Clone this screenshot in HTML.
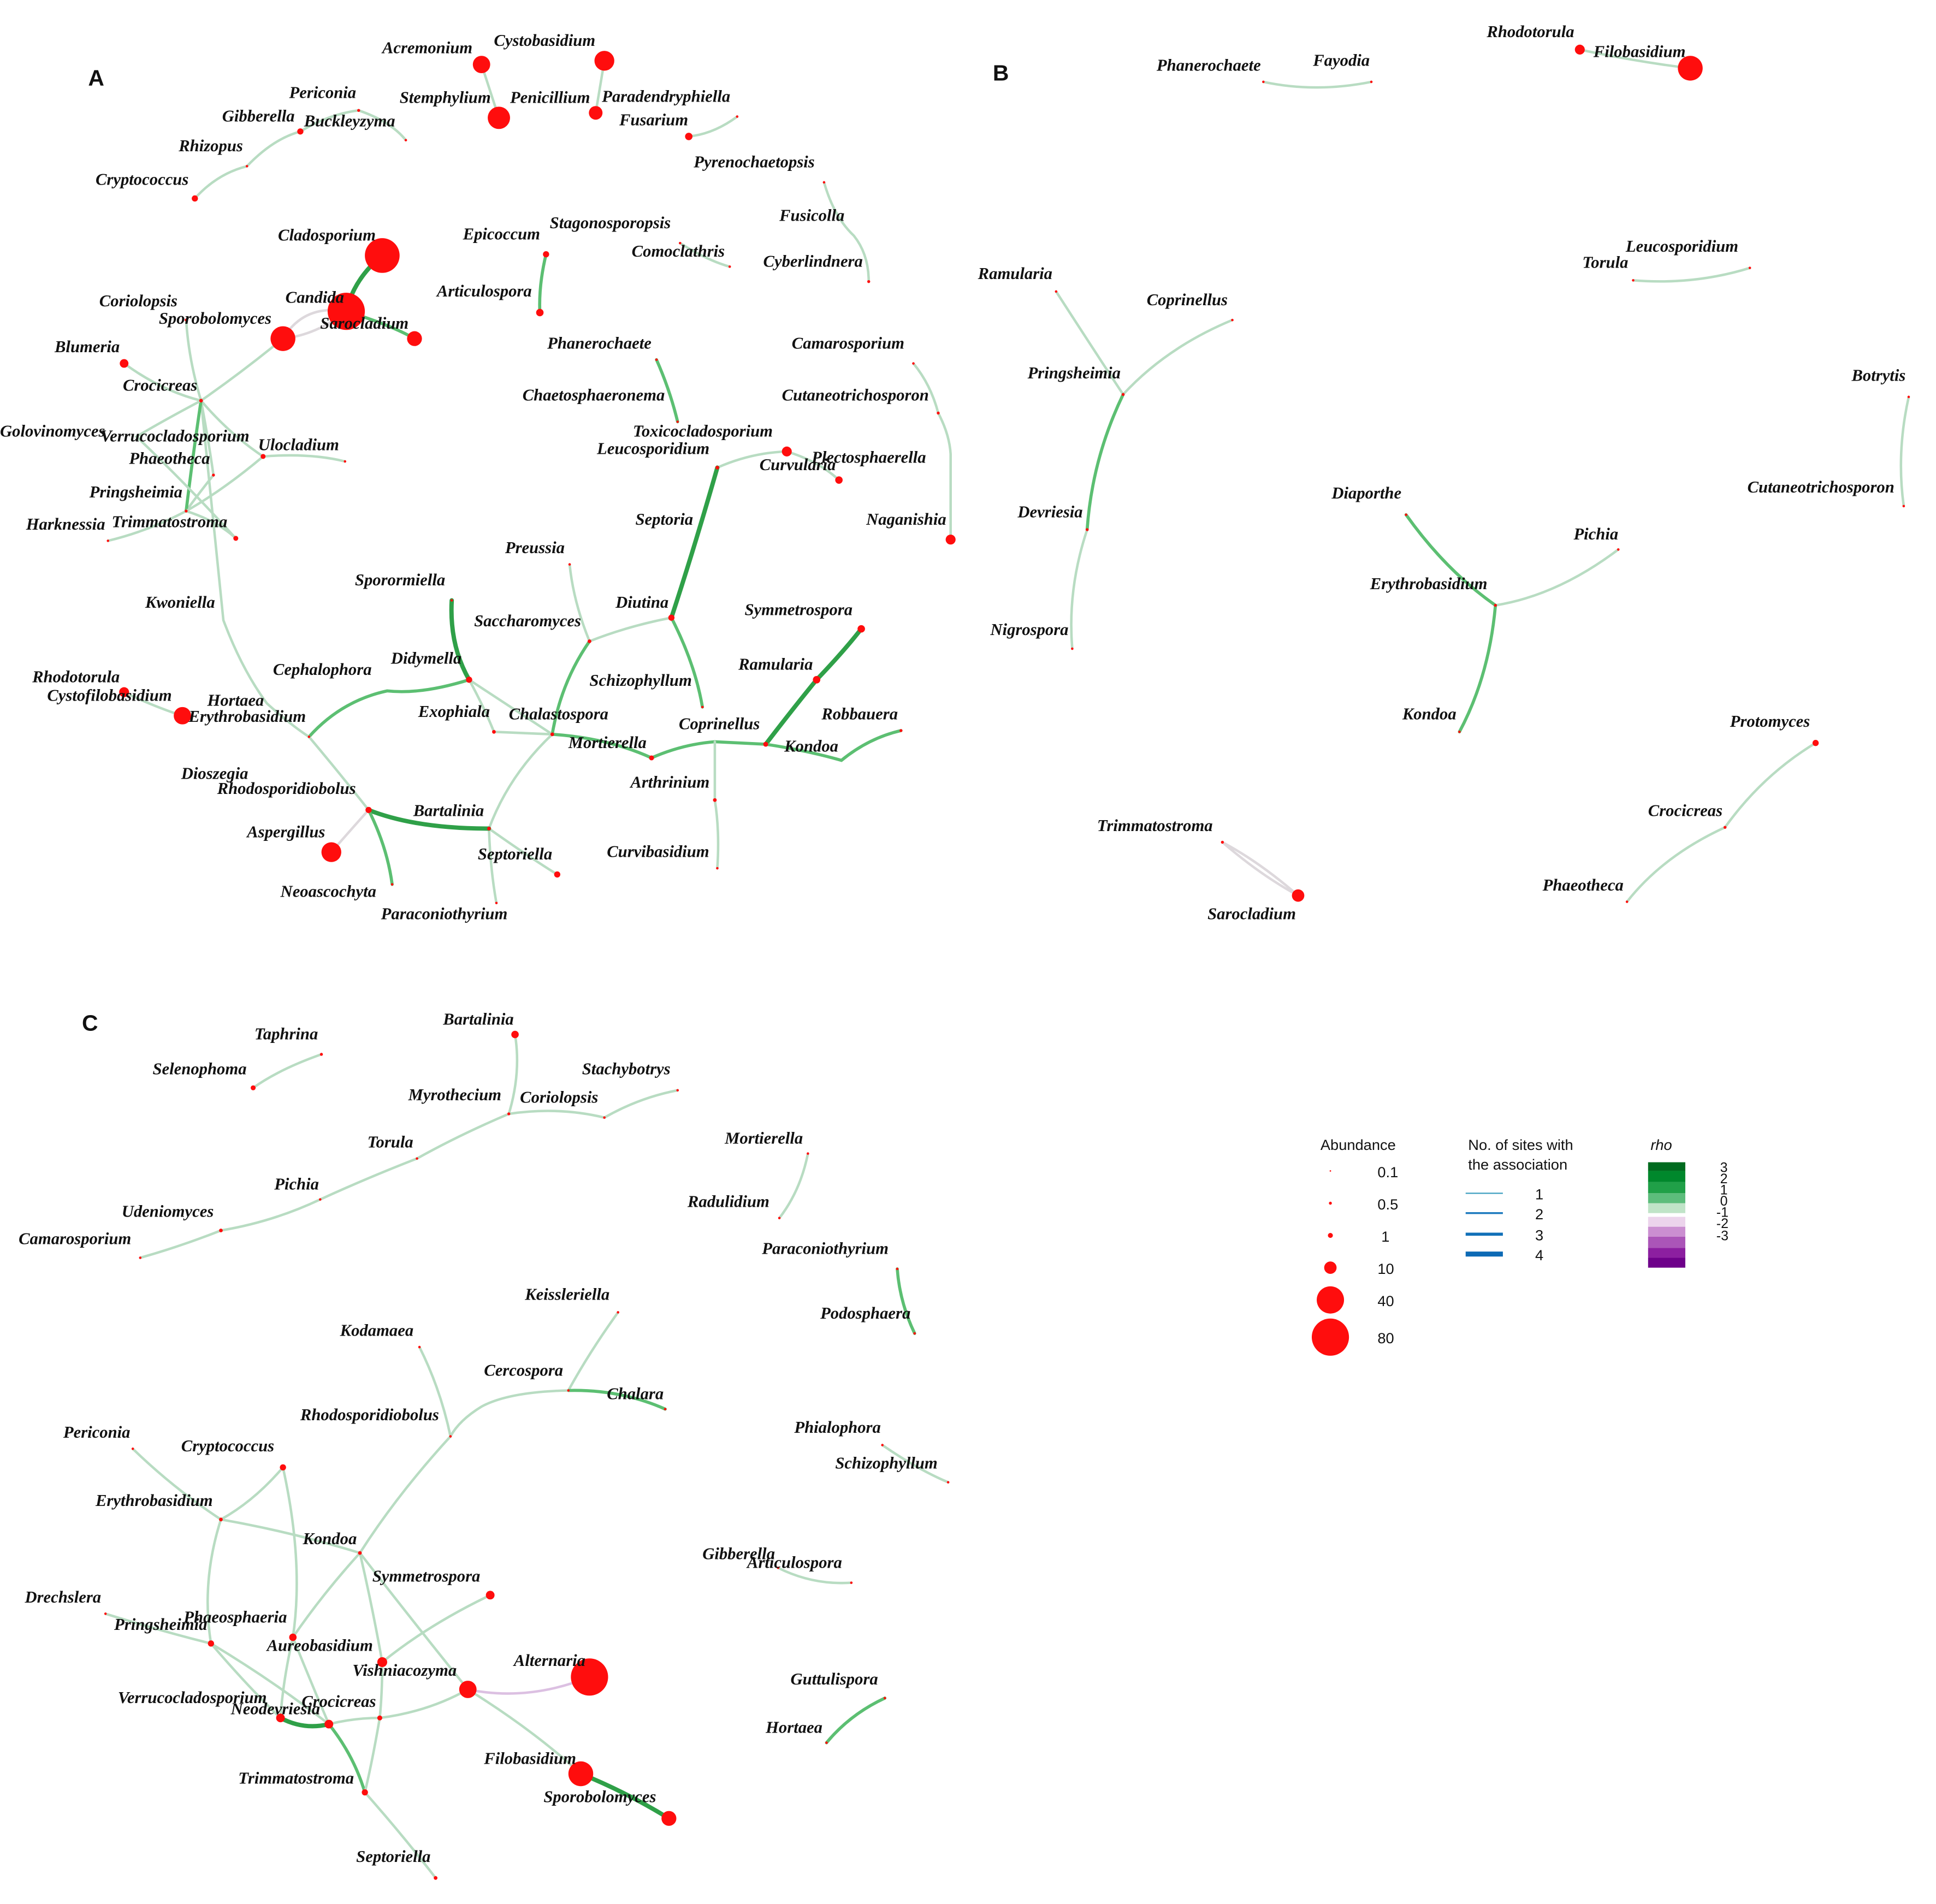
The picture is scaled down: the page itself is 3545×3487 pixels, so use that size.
<!DOCTYPE html>
<html><head><meta charset="utf-8"><style>
html,body{margin:0;padding:0;background:#fff;}
svg{display:block;}
.t{font-family:"Liberation Serif",serif;font-weight:bold;font-style:italic;font-size:13.5px;fill:#111;}
.s{font-family:"Liberation Sans",sans-serif;font-size:12px;fill:#111;}
.p{font-family:"Liberation Sans",sans-serif;font-weight:bold;font-size:18px;fill:#111;}
.l{stroke:#b8dcc2;stroke-width:2;fill:none;stroke-linecap:round;}
.m{stroke:#5cbf72;stroke-width:2.5;fill:none;stroke-linecap:round;}
.d{stroke:#2fa048;stroke-width:3.5;fill:none;stroke-linecap:round;}
.g{stroke:#ddd8dc;stroke-width:2;fill:none;}
.u{stroke:#dcc0e2;stroke-width:2;fill:none;}
circle{fill:#ff0d0d;}
</style></head><body>
<svg width="3545" height="3487" viewBox="0 0 1560 1535" preserveAspectRatio="none" xmlns="http://www.w3.org/2000/svg">
<g>
<path class="l" d="M388,52 L402,95"/><path class="l" d="M487,49 L480,91"/>
<path class="l" d="M157,160 Q175,140 199,134 Q220,112 242,106 Q265,92 289,89 Q315,98 327,113"/>
<path class="l" d="M555,110 Q575,108 594,94"/>
<path class="l" d="M664,147 Q672,175 688,190 Q700,205 700,227"/>
<path class="d" d="M308,206 Q285,225 279,251"/>
<path class="m" d="M279,251 Q315,262 334,273"/>
<path class="g" d="M279,251 Q245,245 228,273 Q255,270 279,251"/>
<path class="l" d="M228,273 Q195,300 162,323"/>
<path class="m" d="M440,205 Q434,230 435,252"/>
<path class="l" d="M548,196 Q570,210 588,215"/>
<path class="m" d="M529,290 Q540,315 546,340"/>
<path class="l" d="M736,293 Q750,310 756,333 Q765,350 766,366 L766,435"/>
<path class="l" d="M578,377 Q605,365 634,364 Q660,372 676,387"/>
<path class="d" d="M578,377 Q560,440 541,498"/>
<path class="l" d="M541,498 Q505,505 475,517 Q462,485 459,455"/>
<path class="m" d="M541,498 Q560,535 566,570"/>
<path class="m" d="M475,517 Q452,550 445,592"/>
<path class="d" d="M364,484 Q362,520 378,548"/>
<path class="m" d="M378,548 Q340,560 312,557 Q275,565 249,594"/>
<path class="l" d="M378,548 Q390,570 398,590 L445,592 L378,548"/>
<path class="m" d="M445,592 Q490,595 525,611 Q550,600 576,598 L617,600"/>
<path class="d" d="M617,600 Q640,570 658,548 Q680,525 694,507"/>
<path class="m" d="M617,600 Q650,605 678,613 Q700,595 726,589"/>
<path class="l" d="M576,598 L576,645 Q580,670 578,700"/>
<path class="l" d="M445,592 Q410,625 394,668 Q395,700 400,728"/>
<path class="l" d="M394,668 Q425,690 449,705"/>
<path class="d" d="M394,668 Q335,668 297,653"/>
<path class="m" d="M297,653 Q312,683 316,713"/>
<path class="g" d="M297,653 Q280,672 267,687"/>
<path class="l" d="M162,323 Q172,420 180,500 Q195,540 215,567 Q235,585 249,594 Q275,625 297,653"/>
<path class="l" d="M162,323 Q152,290 150,258"/>
<path class="l" d="M100,293 Q130,315 162,323"/>
<path class="l" d="M162,323 Q185,350 212,368 Q250,365 278,372"/>
<path class="l" d="M162,323 Q168,355 172,383 Q160,398 150,412 Q120,428 87,436"/>
<path class="m" d="M162,323 Q155,370 150,412"/>
<path class="l" d="M162,323 Q130,340 110,352 Q150,390 190,434"/>
<path class="l" d="M212,368 Q180,395 150,412 Q175,420 190,434"/>
<path class="l" d="M100,558 Q125,570 147,577"/>
</g>
<g>
<circle cx="388" cy="52" r="7"/><circle cx="487" cy="49" r="8"/><circle cx="402" cy="95" r="9"/><circle cx="480" cy="91" r="5.5"/>
<circle cx="289" cy="89" r="1.2"/><circle cx="327" cy="113" r="1"/><circle cx="242" cy="106" r="2.5"/><circle cx="199" cy="134" r="1"/><circle cx="157" cy="160" r="2.5"/>
<circle cx="555" cy="110" r="3"/><circle cx="594" cy="94" r="1"/><circle cx="664" cy="147" r="1"/><circle cx="700" cy="227" r="1.2"/>
<circle cx="308" cy="206" r="14"/><circle cx="279" cy="251" r="15"/><circle cx="334" cy="273" r="6"/><circle cx="228" cy="273" r="10"/>
<circle cx="440" cy="205" r="2.5"/><circle cx="435" cy="252" r="3"/><circle cx="548" cy="196" r="1"/><circle cx="588" cy="215" r="1"/>
<circle cx="529" cy="290" r="1"/><circle cx="546" cy="340" r="1"/><circle cx="736" cy="293" r="1"/><circle cx="756" cy="333" r="1.2"/><circle cx="766" cy="435" r="4"/>
<circle cx="578" cy="377" r="1.5"/><circle cx="634" cy="364" r="4"/><circle cx="676" cy="387" r="3"/>
<circle cx="541" cy="498" r="2.5"/><circle cx="475" cy="517" r="1.5"/><circle cx="459" cy="455" r="1"/><circle cx="566" cy="570" r="1"/>
<circle cx="364" cy="484" r="1"/><circle cx="378" cy="548" r="2.5"/><circle cx="398" cy="590" r="1.5"/><circle cx="445" cy="592" r="1.5"/>
<circle cx="525" cy="611" r="2"/><circle cx="617" cy="600" r="2"/><circle cx="658" cy="548" r="3"/><circle cx="694" cy="507" r="3"/><circle cx="726" cy="589" r="1.2"/>
<circle cx="576" cy="645" r="1.5"/><circle cx="578" cy="700" r="1"/><circle cx="394" cy="668" r="1.5"/><circle cx="400" cy="728" r="1"/><circle cx="449" cy="705" r="2.5"/>
<circle cx="297" cy="653" r="2.5"/><circle cx="316" cy="713" r="1"/><circle cx="267" cy="687" r="8"/>
<circle cx="162" cy="323" r="1.5"/><circle cx="150" cy="258" r="1.2"/><circle cx="100" cy="293" r="3.5"/><circle cx="212" cy="368" r="2"/><circle cx="278" cy="372" r="1"/>
<circle cx="150" cy="412" r="1.2"/><circle cx="172" cy="383" r="1.2"/><circle cx="87" cy="436" r="1"/><circle cx="190" cy="434" r="2"/>
<circle cx="100" cy="558" r="4"/><circle cx="147" cy="577" r="7"/><circle cx="249" cy="594" r="1"/>
</g>
<g class="t">
<text x="308" y="43">Acremonium</text><text x="398" y="37">Cystobasidium</text><text x="233" y="79">Periconia</text>
<text x="322" y="83">Stemphylium</text><text x="411" y="83">Penicillium</text><text x="485" y="82">Paradendryphiella</text>
<text x="179" y="98">Gibberella</text><text x="245" y="102">Buckleyzyma</text><text x="499" y="101">Fusarium</text>
<text x="144" y="122">Rhizopus</text><text x="559" y="135">Pyrenochaetopsis</text><text x="77" y="149">Cryptococcus</text>
<text x="628" y="178">Fusicolla</text><text x="224" y="194">Cladosporium</text><text x="373" y="193">Epicoccum</text>
<text x="443" y="184">Stagonosporopsis</text><text x="509" y="207">Comoclathris</text><text x="615" y="215">Cyberlindnera</text>
<text x="230" y="244">Candida</text><text x="352" y="239">Articulospora</text><text x="80" y="247">Coriolopsis</text>
<text x="128" y="261">Sporobolomyces</text><text x="258" y="265">Sarocladium</text><text x="44" y="284">Blumeria</text>
<text x="441" y="281">Phanerochaete</text><text x="638" y="281">Camarosporium</text><text x="99" y="315">Crocicreas</text>
<text x="421" y="323">Chaetosphaeronema</text><text x="630" y="323">Cutaneotrichosporon</text>
<text x="0" y="352">Golovinomyces</text><text x="81" y="356">Verrucocladosporium</text><text x="208" y="363">Ulocladium</text>
<text x="510" y="352">Toxicocladosporium</text><text x="481" y="366">Leucosporidium</text><text x="104" y="374">Phaeotheca</text>
<text x="612" y="379">Curvularia</text><text x="654" y="373">Plectosphaerella</text><text x="72" y="401">Pringsheimia</text>
<text x="21" y="427">Harknessia</text><text x="90" y="425">Trimmatostroma</text><text x="698" y="423">Naganishia</text>
<text x="512" y="423">Septoria</text><text x="407" y="446">Preussia</text><text x="286" y="472">Sporormiella</text>
<text x="496" y="490">Diutina</text><text x="117" y="490">Kwoniella</text><text x="600" y="496">Symmetrospora</text>
<text x="382" y="505">Saccharomyces</text><text x="315" y="535">Didymella</text><text x="595" y="540">Ramularia</text>
<text x="220" y="544">Cephalophora</text><text x="26" y="550">Rhodotorula</text><text x="475" y="553">Schizophyllum</text>
<text x="38" y="565">Cystofilobasidium</text><text x="167" y="569">Hortaea</text><text x="152" y="582">Erythrobasidium</text>
<text x="337" y="578">Exophiala</text><text x="410" y="580">Chalastospora</text><text x="547" y="588">Coprinellus</text>
<text x="662" y="580">Robbauera</text><text x="458" y="603">Mortierella</text><text x="632" y="606">Kondoa</text>
<text x="146" y="628">Dioszegia</text><text x="175" y="640">Rhodosporidiobolus</text><text x="508" y="635">Arthrinium</text>
<text x="333" y="658">Bartalinia</text><text x="199" y="675">Aspergillus</text><text x="385" y="693">Septoriella</text>
<text x="489" y="691">Curvibasidium</text><text x="226" y="723">Neoascochyta</text><text x="307" y="741">Paraconiothyrium</text>
</g>
<g>
<path class="l" d="M1273,40 Q1320,50 1362,55"/><path class="l" d="M1018,66 Q1060,75 1105,66"/>
<path class="l" d="M1316,226 Q1365,230 1410,216"/><path class="l" d="M1538,320 Q1528,365 1534,408"/>
<path class="l" d="M851,235 Q880,280 905,318"/><path class="l" d="M993,258 Q940,280 905,318"/>
<path class="m" d="M905,318 Q880,370 876,427"/><path class="l" d="M876,427 Q860,475 864,523"/>
<path class="m" d="M1133,415 Q1165,460 1205,488"/><path class="l" d="M1304,443 Q1255,480 1205,488"/>
<path class="m" d="M1205,488 Q1200,545 1176,590"/>
<path class="l" d="M1463,599 Q1420,625 1390,667 Q1340,690 1311,727"/>
<path class="g" d="M985,679 Q1015,705 1046,722 Q1015,695 985,679"/>
<circle cx="1273" cy="40" r="4"/><circle cx="1362" cy="55" r="10"/><circle cx="1018" cy="66" r="1"/><circle cx="1105" cy="66" r="1"/>
<circle cx="1316" cy="226" r="1"/><circle cx="1410" cy="216" r="1"/><circle cx="1538" cy="320" r="1"/><circle cx="1534" cy="408" r="1"/>
<circle cx="851" cy="235" r="1"/><circle cx="993" cy="258" r="1"/><circle cx="905" cy="318" r="1.2"/><circle cx="876" cy="427" r="1.2"/><circle cx="864" cy="523" r="1"/>
<circle cx="1133" cy="415" r="1"/><circle cx="1304" cy="443" r="1"/><circle cx="1205" cy="488" r="1.2"/><circle cx="1176" cy="590" r="1"/>
<circle cx="1463" cy="599" r="2.5"/><circle cx="1390" cy="667" r="1.2"/><circle cx="1311" cy="727" r="1"/><circle cx="985" cy="679" r="1.2"/><circle cx="1046" cy="722" r="5"/>
</g>
<g class="t">
<text x="1198" y="30">Rhodotorula</text><text x="1284" y="46">Filobasidium</text><text x="932" y="57">Phanerochaete</text>
<text x="1058" y="53">Fayodia</text><text x="1310" y="203">Leucosporidium</text><text x="1275" y="216">Torula</text>
<text x="788" y="225">Ramularia</text><text x="924" y="246">Coprinellus</text><text x="1492" y="307">Botrytis</text>
<text x="828" y="305">Pringsheimia</text><text x="1408" y="397">Cutaneotrichosporon</text><text x="1073" y="402">Diaporthe</text>
<text x="1268" y="435">Pichia</text><text x="820" y="417">Devriesia</text><text x="1104" y="475">Erythrobasidium</text>
<text x="798" y="512">Nigrospora</text><text x="1130" y="580">Kondoa</text><text x="1394" y="586">Protomyces</text>
<text x="1328" y="658">Crocicreas</text><text x="884" y="670">Trimmatostroma</text><text x="1243" y="718">Phaeotheca</text>
<text x="973" y="741">Sarocladium</text>
</g>
<g>
<path class="l" d="M415,834 Q420,865 410,898"/><path class="l" d="M410,898 Q450,892 487,901 Q515,885 546,879"/>
<path class="l" d="M410,898 Q370,915 336,934 Q295,950 258,967 Q220,985 178,992 Q145,1005 113,1014"/>
<path class="l" d="M259,850 Q225,862 204,877"/><path class="l" d="M651,930 Q645,960 628,982"/>
<path class="m" d="M723,1023 Q725,1050 737,1075"/>
<path class="l" d="M498,1058 Q475,1090 458,1121"/><path class="m" d="M458,1121 Q500,1120 536,1136"/>
<path class="l" d="M458,1121 Q410,1122 388,1134 Q370,1145 363,1158 Q320,1205 290,1252"/>
<path class="l" d="M338,1086 Q355,1120 363,1158"/>
<path class="l" d="M711,1165 Q740,1185 764,1195"/><path class="l" d="M627,1264 Q655,1278 686,1276"/>
<path class="m" d="M713,1369 Q685,1382 666,1405"/>
<path class="l" d="M107,1168 Q140,1200 178,1225 Q235,1235 290,1252"/>
<path class="l" d="M228,1183 Q205,1210 178,1225"/>
<path class="l" d="M228,1183 Q245,1260 236,1320 Q228,1355 226,1385"/>
<path class="l" d="M178,1225 Q162,1275 170,1325"/>
<path class="l" d="M85,1301 Q130,1315 170,1325"/>
<path class="l" d="M170,1325 Q200,1360 226,1385"/>
<path class="d" d="M226,1385 Q245,1395 265,1390"/>
<path class="l" d="M265,1390 Q285,1385 306,1385 Q345,1380 377,1362"/>
<path class="l" d="M290,1252 Q335,1310 377,1362"/>
<path class="l" d="M290,1252 Q260,1285 236,1320"/>
<path class="l" d="M290,1252 Q300,1295 308,1340 Q308,1365 306,1385"/>
<path class="l" d="M395,1286 Q345,1310 308,1340"/>
<path class="u" d="M377,1362 Q425,1372 475,1352"/>
<path class="l" d="M377,1362 Q430,1395 468,1430"/>
<path class="d" d="M468,1430 Q505,1445 539,1466"/>
<path class="m" d="M265,1390 Q285,1415 294,1445"/><path class="l" d="M294,1445 Q325,1480 351,1514"/>
<path class="l" d="M170,1325 Q220,1355 265,1390"/>
<path class="l" d="M265,1390 Q250,1355 236,1320"/>
<path class="l" d="M306,1385 Q300,1420 294,1445"/>
<circle cx="415" cy="834" r="3"/><circle cx="410" cy="898" r="1.2"/><circle cx="487" cy="901" r="1"/><circle cx="546" cy="879" r="1"/>
<circle cx="336" cy="934" r="1"/><circle cx="258" cy="967" r="1"/><circle cx="178" cy="992" r="1.5"/><circle cx="113" cy="1014" r="1"/>
<circle cx="259" cy="850" r="1.2"/><circle cx="204" cy="877" r="2"/><circle cx="651" cy="930" r="1"/><circle cx="628" cy="982" r="1"/>
<circle cx="723" cy="1023" r="1"/><circle cx="737" cy="1075" r="1"/><circle cx="498" cy="1058" r="1"/><circle cx="458" cy="1121" r="1"/><circle cx="536" cy="1136" r="1"/>
<circle cx="363" cy="1158" r="1"/><circle cx="338" cy="1086" r="1"/><circle cx="711" cy="1165" r="1"/><circle cx="764" cy="1195" r="1"/>
<circle cx="627" cy="1264" r="1"/><circle cx="686" cy="1276" r="1"/><circle cx="713" cy="1369" r="1"/><circle cx="666" cy="1405" r="1"/>
<circle cx="107" cy="1168" r="1"/><circle cx="178" cy="1225" r="1.5"/><circle cx="290" cy="1252" r="1.5"/><circle cx="228" cy="1183" r="2.5"/>
<circle cx="85" cy="1301" r="1"/><circle cx="170" cy="1325" r="2.5"/><circle cx="236" cy="1320" r="3"/><circle cx="226" cy="1385" r="3.5"/>
<circle cx="265" cy="1390" r="3.5"/><circle cx="306" cy="1385" r="2"/><circle cx="308" cy="1340" r="4"/><circle cx="395" cy="1286" r="3.5"/>
<circle cx="377" cy="1362" r="7"/><circle cx="475" cy="1352" r="15"/><circle cx="468" cy="1430" r="10"/><circle cx="539" cy="1466" r="6"/>
<circle cx="294" cy="1445" r="2.5"/><circle cx="351" cy="1514" r="1.5"/>
</g>
<g class="t">
<text x="357" y="826">Bartalinia</text><text x="205" y="838">Taphrina</text><text x="469" y="866">Stachybotrys</text>
<text x="123" y="866">Selenophoma</text><text x="329" y="887">Myrothecium</text><text x="419" y="889">Coriolopsis</text>
<text x="584" y="922">Mortierella</text><text x="296" y="925">Torula</text><text x="221" y="959">Pichia</text>
<text x="554" y="973">Radulidium</text><text x="98" y="981">Udeniomyces</text><text x="15" y="1003">Camarosporium</text>
<text x="614" y="1011">Paraconiothyrium</text><text x="423" y="1048">Keissleriella</text><text x="661" y="1063">Podosphaera</text>
<text x="274" y="1077">Kodamaea</text><text x="390" y="1109">Cercospora</text><text x="489" y="1128">Chalara</text>
<text x="242" y="1145">Rhodosporidiobolus</text><text x="640" y="1155">Phialophora</text><text x="51" y="1159">Periconia</text>
<text x="146" y="1170">Cryptococcus</text><text x="673" y="1184">Schizophyllum</text><text x="77" y="1214">Erythrobasidium</text>
<text x="244" y="1245">Kondoa</text><text x="566" y="1257">Gibberella</text><text x="602" y="1264">Articulospora</text>
<text x="300" y="1275">Symmetrospora</text><text x="20" y="1292">Drechslera</text><text x="148" y="1308">Phaeosphaeria</text>
<text x="92" y="1314">Pringsheimia</text><text x="215" y="1331">Aureobasidium</text><text x="414" y="1343">Alternaria</text>
<text x="284" y="1351">Vishniacozyma</text><text x="637" y="1358">Guttulispora</text><text x="95" y="1373">Verrucocladosporium</text>
<text x="243" y="1376">Crocicreas</text><text x="186" y="1382">Neodevriesia</text><text x="617" y="1397">Hortaea</text>
<text x="390" y="1422">Filobasidium</text><text x="192" y="1438">Trimmatostroma</text><text x="438" y="1453">Sporobolomyces</text>
<text x="287" y="1501">Septoriella</text>
</g>
<text class="p" x="71" y="69">A</text><text class="p" x="800" y="65">B</text><text class="p" x="66" y="831">C</text>
<g class="s">
<text x="1064" y="927">Abundance</text>
<text x="1110" y="949">0.1</text><text x="1110" y="975">0.5</text><text x="1113" y="1001">1</text>
<text x="1110" y="1027">10</text><text x="1110" y="1053">40</text><text x="1110" y="1083">80</text>
<text x="1183" y="927">No. of sites with</text><text x="1183" y="943">the association</text>
<text x="1237" y="967">1</text><text x="1237" y="983">2</text><text x="1237" y="1000">3</text><text x="1237" y="1016">4</text>
<text x="1330" y="927" font-style="italic">rho</text>
<text x="1386" y="945" font-size="11">3</text><text x="1386" y="954" font-size="11">2</text><text x="1386" y="963" font-size="11">1</text>
<text x="1386" y="972" font-size="11">0</text><text x="1383" y="981" font-size="11">-1</text><text x="1383" y="990" font-size="11">-2</text><text x="1383" y="1000" font-size="11">-3</text>
</g>
<circle cx="1072" cy="944" r="0.6" fill="#f88"/><circle cx="1072" cy="970" r="1.2"/><circle cx="1072" cy="996" r="2"/>
<circle cx="1072" cy="1022" r="5"/><circle cx="1072" cy="1048" r="11"/><circle cx="1072" cy="1078" r="15"/>
<line x1="1181" y1="962" x2="1211" y2="962" stroke="#3d9fbf" stroke-width="1"/>
<line x1="1181" y1="978" x2="1211" y2="978" stroke="#1a78bd" stroke-width="1.5"/>
<line x1="1181" y1="995" x2="1211" y2="995" stroke="#1270b8" stroke-width="2.5"/>
<line x1="1181" y1="1011" x2="1211" y2="1011" stroke="#0d6ab5" stroke-width="4"/>
<rect x="1328" y="937" width="30" height="7" fill="#006b1f"/><rect x="1328" y="944" width="30" height="9" fill="#00882c"/>
<rect x="1328" y="953" width="30" height="9" fill="#20a048"/><rect x="1328" y="962" width="30" height="8" fill="#5dbd7c"/>
<rect x="1328" y="970" width="30" height="8" fill="#c0e4c8"/>
<rect x="1328" y="981" width="30" height="8" fill="#ecd4ec"/><rect x="1328" y="989" width="30" height="8" fill="#cb8fd1"/>
<rect x="1328" y="997" width="30" height="9" fill="#ab55b8"/><rect x="1328" y="1006" width="30" height="8" fill="#8c1fa0"/>
<rect x="1328" y="1014" width="30" height="8" fill="#6e008a"/>
</svg>
</body></html>
